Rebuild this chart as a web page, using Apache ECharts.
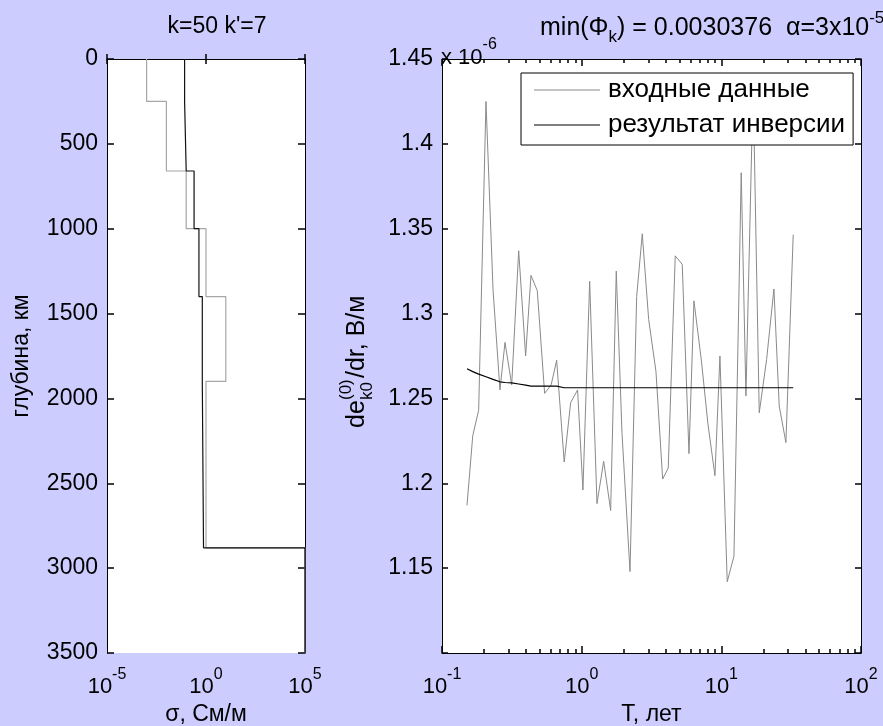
<!DOCTYPE html>
<html><head><meta charset="utf-8">
<script src="https://cdn.jsdelivr.net/npm/echarts@6/dist/echarts.min.js"></script>
<style>html,body{margin:0;padding:0;background:#CCCCFF;} #c{width:883px;height:726px;}</style>
</head><body><div id="c"></div>
<script>
// ---- Left panel: conductivity profiles (step models) ----
const layerTopDepth = [0, 250, 660, 1000, 1400, 1900, 2880];
const modelDepthMax = 3500;
const sigmaModel = [0.001, 0.01, 0.1, 1, 10, 1, 100000];
const sigmaInversion = [0.083, 0.1, 0.25, 0.44, 0.65, 0.75, 100000];
const sigmaTickValues = [1e-5, 1, 1e5];

// ---- Right panel: de/dr vs period ----
const periodT = [0.151,0.166,0.183,0.2065,0.232,0.26,0.2825,0.3155,0.354,0.397,0.4335,0.481,0.543,0.605,0.662,0.75,0.834,0.935,1.021,1.141,1.287,1.437,1.613,1.769,1.943,2.218,2.476,2.716,3.018,3.403,3.801,4.168,4.677,5.25,5.866,6.366,7.204,8.017,9.0,9.77,11.02,12.31,13.88,15.0,16.89,18.68,21.1,23.8,25.97,29.0,32.71];
const inputData = [1.187,1.228,1.243,1.425,1.314,1.255,1.283,1.258,1.337,1.275,1.3225,1.3135,1.253,1.258,1.2725,1.2125,1.2475,1.255,1.196,1.319,1.188,1.213,1.184,1.325,1.23,1.148,1.31,1.347,1.2965,1.266,1.2025,1.209,1.334,1.329,1.2175,1.3075,1.272,1.235,1.2045,1.275,1.142,1.157,1.383,1.2515,1.435,1.2415,1.273,1.3145,1.2455,1.224,1.3465];
const inversionResult = [1.2675,1.2658,1.2643,1.2628,1.2612,1.2598,1.2594,1.2592,1.2585,1.2578,1.2572,1.2572,1.2572,1.2572,1.2572,1.2563,1.2563,1.2563,1.2563,1.2563,1.2563,1.2563,1.2563,1.2563,1.2563,1.2563,1.2563,1.2563,1.2563,1.2563,1.2563,1.2563,1.2563,1.2563,1.2563,1.2563,1.2563,1.2563,1.2563,1.2563,1.2563,1.2563,1.2563,1.2563,1.2563,1.2563,1.2563,1.2563,1.2563,1.2563,1.2563];
const periodMajorTicks = [0.1, 1, 10, 100];
const periodMinorTicks = [0.2,0.3,0.4,0.5,0.6,0.7,0.8,0.9,2,3,4,5,6,7,8,9,20,30,40,50,60,70,80,90];
const seriesNames = ['входные данные', 'результат инверсии'];

const FONT = '"Liberation Sans", Arial, sans-serif';

function stepPath(sig) {
  const pts = [];
  for (let i = 0; i < sig.length; i++) {
    const top = layerTopDepth[i];
    const bottom = i + 1 < layerTopDepth.length ? layerTopDepth[i + 1] : modelDepthMax;
    pts.push([sig[i], top], [sig[i], bottom]);
  }
  return pts;
}
function pairs(xs, ys) { return xs.map((x, i) => [x, ys[i]]); }

const powRich = {
  b: { fontSize: 22, fontFamily: FONT, color: '#000', lineHeight: 36, verticalAlign: 'bottom' },
  s: { fontSize: 16, fontFamily: FONT, color: '#000', verticalAlign: 'top', padding: [5, 0, 0, 0] }
};
function powLabel(v) {
  const e = Math.round(Math.log10(v));
  return '{b|10}{s|' + e + '}';
}

const axisLineStyle = { show: true, lineStyle: { color: '#000', width: 1 } };

function logX(gridIndex, pos, min, max, tickVals, tickLen, showLabel, extra) {
  return Object.assign({
    type: 'log', logBase: 10, gridIndex, position: pos, min, max,
    axisLine: axisLineStyle,
    axisTick: { show: true, inside: true, length: tickLen, customValues: tickVals, lineStyle: { color: '#000', width: 1.5 } },
    axisLabel: showLabel ? { show: true, customValues: tickVals, formatter: powLabel, rich: powRich, margin: 9 } : { show: false },
    splitLine: { show: false }, minorTick: { show: false }
  }, extra || {});
}

const txt = (text, size) => ({ text, fontSize: size, fontFamily: FONT, fill: '#000', align: 'left', verticalAlign: 'middle', textAlign: 'left', textVerticalAlign: 'middle' });

const chart = echarts.init(document.getElementById('c'));
chart.setOption({
  animation: false,
  backgroundColor: '#CCCCFF',
  textStyle: { fontFamily: FONT },
  grid: [
    { left: 107, top: 59, width: 198, height: 594, show: true, backgroundColor: '#fff', borderWidth: 0, containLabel: false, outerBoundsMode: 'none' },
    { left: 442, top: 59, width: 419, height: 594, show: true, backgroundColor: '#fff', borderWidth: 0, containLabel: false, outerBoundsMode: 'none' }
  ],
  xAxis: [
    logX(0, 'bottom', 1e-5, 1e5, sigmaTickValues, 5, true, {
      name: 'σ, См/м', nameLocation: 'middle', nameGap: 50,
      nameTextStyle: { fontSize: 23, color: '#000', fontFamily: FONT }
    }),
    logX(0, 'top', 1e-5, 1e5, sigmaTickValues, 5, false),
    logX(1, 'bottom', 0.1, 100, periodMajorTicks, 7, true, {
      name: 'T, лет', nameLocation: 'middle', nameGap: 50,
      nameTextStyle: { fontSize: 23, color: '#000', fontFamily: FONT }
    }),
    logX(1, 'top', 0.1, 100, periodMajorTicks, 7, false),
    logX(1, 'bottom', 0.1, 100, periodMinorTicks, 4, false, { axisLine: { show: false } }),
    logX(1, 'top', 0.1, 100, periodMinorTicks, 4, false, { axisLine: { show: false } })
  ],
  yAxis: [
    {
      type: 'value', gridIndex: 0, position: 'left', inverse: true, min: 0, max: 3500, interval: 500,
      axisLine: axisLineStyle,
      axisTick: { show: true, inside: true, length: 7, lineStyle: { color: '#000', width: 1.5 } },
      axisLabel: { show: true, fontSize: 23, color: '#000', fontFamily: FONT, margin: 9, formatter: v => String(v) },
      splitLine: { show: false },
      name: 'глубина, км', nameLocation: 'middle', nameGap: 74,
      nameTextStyle: { fontSize: 23, color: '#000', fontFamily: FONT }
    },
    {
      type: 'value', gridIndex: 0, position: 'right', inverse: true, min: 0, max: 3500, interval: 500,
      axisLine: axisLineStyle,
      axisTick: { show: true, inside: true, length: 7, lineStyle: { color: '#000', width: 1.5 } },
      axisLabel: { show: false }, splitLine: { show: false }
    },
    {
      type: 'value', gridIndex: 1, position: 'left', min: 1.1, max: 1.45, interval: 0.05,
      axisLine: axisLineStyle,
      axisTick: { show: true, inside: true, length: 6, lineStyle: { color: '#000', width: 1.5 } },
      axisLabel: {
        show: true, fontSize: 23, color: '#000', fontFamily: FONT, margin: 9,
        formatter: v => (v < 1.12 ? '' : String(parseFloat(v.toFixed(2))))
      },
      splitLine: { show: false }
    },
    {
      type: 'value', gridIndex: 1, position: 'right', min: 1.1, max: 1.45, interval: 0.05,
      axisLine: axisLineStyle,
      axisTick: { show: true, inside: true, length: 6, lineStyle: { color: '#000', width: 1.5 } },
      axisLabel: { show: false }, splitLine: { show: false }
    }
  ],
  legend: {
    left: 521, top: 73, orient: 'vertical',
    backgroundColor: '#fff', borderColor: '#000', borderWidth: 1, borderRadius: 0,
    padding: [4, 8, 7, 13], itemWidth: 66, itemHeight: 1, itemGap: 9,
    icon: 'rect', selectedMode: false,
    textStyle: { fontSize: 26, color: '#000', fontFamily: FONT, padding: [0, 0, 0, 3] },
    data: seriesNames
  },
  series: [
    { type: 'line', name: 'model', xAxisIndex: 0, yAxisIndex: 0, data: stepPath(sigmaModel),
      showSymbol: false, symbol: 'none', lineStyle: { color: '#a6a6a6', width: 1.2 }, itemStyle: { color: '#a6a6a6' }, silent: true },
    { type: 'line', name: 'inv', xAxisIndex: 0, yAxisIndex: 0, data: stepPath(sigmaInversion),
      showSymbol: false, symbol: 'none', lineStyle: { color: '#111', width: 1.2 }, itemStyle: { color: '#111' }, silent: true },
    { type: 'line', name: seriesNames[0], xAxisIndex: 2, yAxisIndex: 2, data: pairs(periodT, inputData),
      showSymbol: false, symbol: 'none', lineStyle: { color: '#8a8a8a', width: 1 }, itemStyle: { color: '#8a8a8a' }, silent: true },
    { type: 'line', name: seriesNames[1], xAxisIndex: 2, yAxisIndex: 2, data: pairs(periodT, inversionResult),
      showSymbol: false, symbol: 'none', lineStyle: { color: '#000', width: 1.2 }, itemStyle: { color: '#000' }, silent: true }
  ],
  graphic: [
    { type: 'text', x: 217, y: 27,
      style: { text: "k=50 k'=7", fontSize: 23, fontFamily: FONT, fill: '#000', align: 'center', verticalAlign: 'middle', textAlign: 'center', textVerticalAlign: 'middle' } },
    { type: 'text', x: 540, y: 28,
      style: {
        text: '{a|min(Φ}{s|k}{a|) = 0.0030376  α=3x10}{p|-5}',
        align: 'left', verticalAlign: 'middle', textAlign: 'left', textVerticalAlign: 'middle',
        rich: {
          a: { fontSize: 25, fontFamily: FONT, fill: '#000', color: '#000', lineHeight: 36, verticalAlign: 'middle' },
          s: { fontSize: 17, fontFamily: FONT, fill: '#000', color: '#000', lineHeight: 14, verticalAlign: 'bottom' },
          p: { fontSize: 17, fontFamily: FONT, fill: '#000', color: '#000', lineHeight: 14, verticalAlign: 'top' }
        }
      } },
    { type: 'text', x: 441, y: 53,
      style: {
        text: '{a|x 10}{p|-6}',
        align: 'left', verticalAlign: 'middle', textAlign: 'left', textVerticalAlign: 'middle',
        rich: {
          a: { fontSize: 22, fontFamily: FONT, fill: '#000', color: '#000', lineHeight: 32, verticalAlign: 'bottom' },
          p: { fontSize: 16, fontFamily: FONT, fill: '#000', color: '#000', lineHeight: 14, verticalAlign: 'top' }
        }
      } },
    { type: 'group', x: 357, y: 428, rotation: Math.PI / 2,
      children: [
        { type: 'text', x: 0, y: 0, style: txt('de', 25) },
        { type: 'text', x: 28, y: -11, style: txt('(0)', 17) },
        { type: 'text', x: 28, y: 10, style: txt('k0', 17) },
        { type: 'text', x: 50, y: 0, style: txt('/dr, В/м', 25) }
      ] }
  ]
});
</script>
</body></html>
